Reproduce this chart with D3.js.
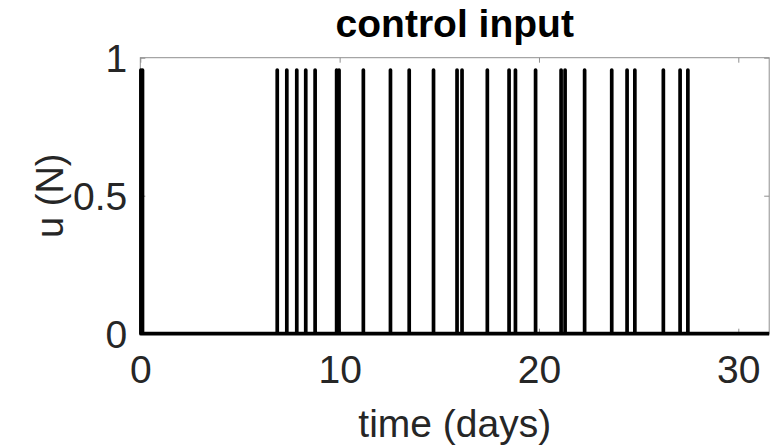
<!DOCTYPE html>
<html>
<head>
<meta charset="utf-8">
<script src="https://cdn.jsdelivr.net/npm/d3@7/dist/d3.min.js"></script>
<style>
  html, body { margin: 0; padding: 0; background: #fff; }
  svg { display: block; font-family: "Liberation Sans", Arial, Helvetica, sans-serif; }
</style>
</head>
<body>
<svg id="chart" width="778" height="445"></svg>
<script>
// Times (days) at which the control input switches on
const pulseTimes = [0.03, 0.11, 6.87, 7.35, 7.85, 8.30, 8.77, 9.85, 9.97, 11.19, 12.55,
  13.49, 14.71, 15.89, 16.14, 17.41, 18.50, 18.82, 19.83, 21.11, 21.31, 22.29,
  23.65, 24.42, 24.81, 26.24, 27.08, 27.47];
// Input level during each pulse (N)
const pulseLevel = 0.955;
const timeRange = [0, 31.55];
const xTicks = [0, 10, 20, 30];
const yTicks = [0, 0.5, 1];
const yTickLabels = ["0", "0.5", "1"];

const svg = d3.select("#chart");
const plotLeft = 140.3, plotRight = 769.2, plotTop = 57.7, plotBottom = 333.7;

const x = d3.scaleLinear().domain(timeRange).range([plotLeft, plotRight]);
const y = d3.scaleLinear().domain([0, 1]).range([plotBottom, plotTop]);

// Build the input signal: zero baseline with vertical pulses
const signal = [[timeRange[0], 0]];
pulseTimes.forEach(t => { signal.push([t, 0], [t, pulseLevel], [t, 0]); });
signal.push([timeRange[1], 0]);

const boxColor = "#8f8f8f";

// Axes box
svg.append("rect")
  .attr("x", plotLeft).attr("y", plotTop)
  .attr("width", plotRight - plotLeft).attr("height", plotBottom - plotTop)
  .attr("fill", "none").attr("stroke", boxColor).attr("stroke-width", 1);

// Bottom and top axes (inward ticks)
const xAxisB = d3.axisBottom(x).tickValues(xTicks).tickSizeInner(-5).tickSizeOuter(0).tickPadding(22);
const gxb = svg.append("g").attr("transform", `translate(0,${plotBottom})`).call(xAxisB);
const xAxisT = d3.axisTop(x).tickValues(xTicks).tickSizeInner(-5).tickSizeOuter(0).tickFormat("");
const gxt = svg.append("g").attr("transform", `translate(0,${plotTop})`).call(xAxisT);

// Left and right axes
const yAxisL = d3.axisLeft(y).tickValues(yTicks).tickSizeInner(-5).tickSizeOuter(0)
  .tickPadding(13).tickFormat((d, i) => yTickLabels[i]);
const gyl = svg.append("g").attr("transform", `translate(${plotLeft},0)`).call(yAxisL);
const yAxisR = d3.axisRight(y).tickValues(yTicks).tickSizeInner(-5).tickSizeOuter(0).tickFormat("");
const gyr = svg.append("g").attr("transform", `translate(${plotRight},0)`).call(yAxisR);

[gxb, gxt, gyl, gyr].forEach(g => {
  g.select(".domain").remove();
  g.selectAll(".tick line").attr("stroke", boxColor).attr("stroke-width", 1);
  g.selectAll(".tick text")
    .attr("fill", "#262626")
    .style("font-size", "39px")
    .style("font-family", "'Liberation Sans', Arial, sans-serif");
});
gxb.selectAll(".tick text").attr("dy", "0.71em");
gyl.selectAll(".tick text").attr("dy", "0.35em");

// Signal line
svg.append("path")
  .datum(signal)
  .attr("fill", "none")
  .attr("stroke", "#000")
  .attr("stroke-width", 3.7)
  .attr("stroke-linejoin", "round")
  .attr("stroke-linecap", "butt")
  .attr("d", d3.line().x(d => x(d[0])).y(d => y(d[1])));

// Title and axis labels
svg.append("text")
  .attr("x", (plotLeft + plotRight) / 2).attr("y", 37)
  .attr("text-anchor", "middle")
  .style("font-size", "39px").style("font-weight", "bold")
  .attr("fill", "#000")
  .text("control input");

svg.append("text")
  .attr("x", (plotLeft + plotRight) / 2).attr("y", 437)
  .attr("text-anchor", "middle")
  .style("font-size", "39px")
  .attr("fill", "#262626")
  .text("time (days)");

svg.append("text")
  .attr("transform", `translate(63,${(plotTop + plotBottom) / 2}) rotate(-90)`)
  .attr("text-anchor", "middle")
  .style("font-size", "38px")
  .attr("fill", "#262626")
  .text("u (N)");
</script>
</body>
</html>
